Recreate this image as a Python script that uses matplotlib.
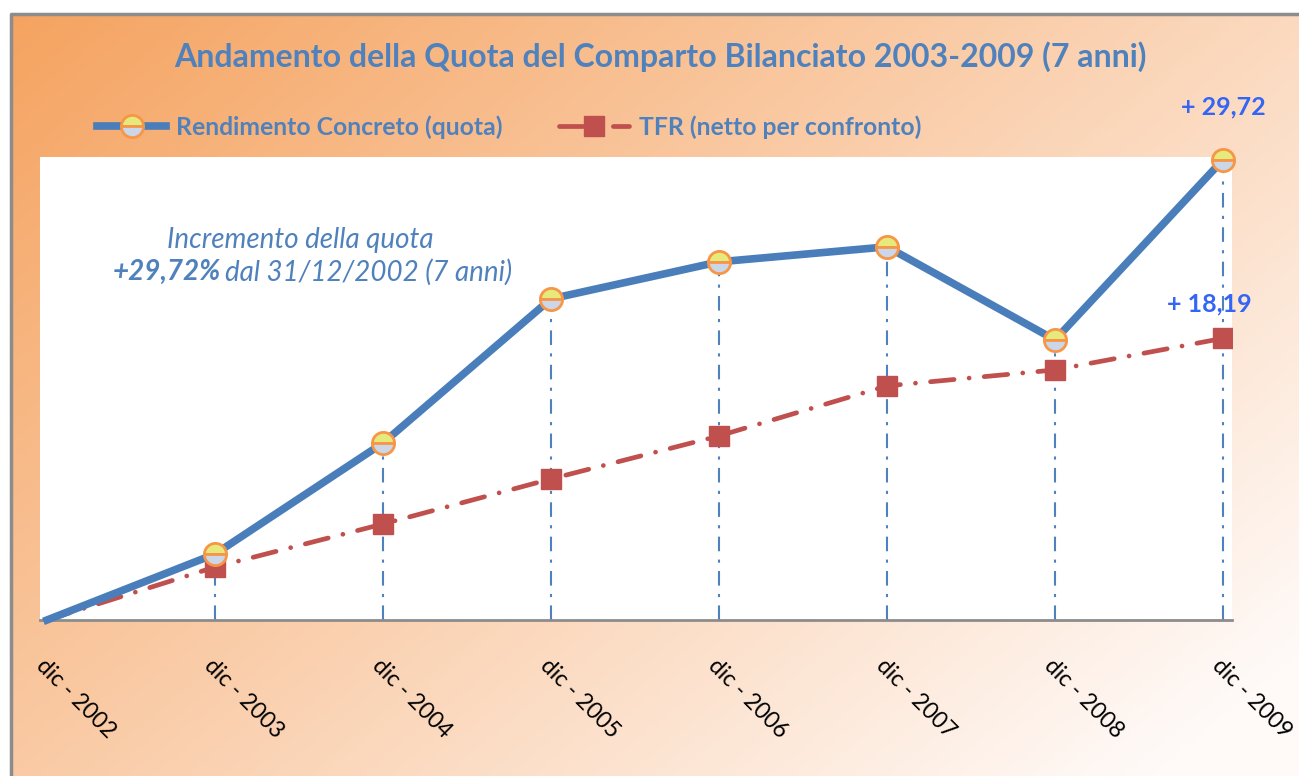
import numpy as np
import matplotlib.pyplot as plt
from matplotlib.patches import Rectangle
from matplotlib.colors import to_rgb

plt.rcParams['font.family'] = ['Lato', 'DejaVu Sans']

years = ['dic - 2002', 'dic - 2003', 'dic - 2004', 'dic - 2005',
         'dic - 2006', 'dic - 2007', 'dic - 2008', 'dic - 2009']
quota = [0, 4.26, 11.43, 20.74, 23.13, 24.10, 18.09, 29.72]
tfr = [0, 3.42, 6.20, 9.11, 11.89, 15.12, 16.15, 18.19]

W, H = 1299, 776
fig = plt.figure(figsize=(W / 100, H / 100), dpi=100)

# gradient background
bg = fig.add_axes([0, 0, 1, 1], zorder=-10)
xx, yy = np.meshgrid(np.linspace(0, 1, 400), np.linspace(0, 1, 240))
t = np.clip(0.62 * xx + 0.45 * yy, 0, 1)[..., None]
c0 = np.array(to_rgb('#F5A25E'))
c1 = np.array(to_rgb('#FFFAF8'))
bg.imshow(c0 + (c1 - c0) * t, aspect='auto', extent=[0, 1, 1, 0])
bg.set_xlim(0, 1)
bg.set_ylim(1, 0)
bg.axis('off')
bg.add_patch(Rectangle((0, 0), 10 / W, 1, color='white', transform=bg.transAxes))
bg.add_patch(Rectangle((0, 1 - 13 / H), 1, 13 / H, color='white', transform=bg.transAxes))
bg.plot([11 / W, 11 / W, 1], [0, 1 - 14 / H, 1 - 14 / H], color='#8C8C8C', lw=2.5,
        transform=bg.transAxes)
bg.set_position([0, 0, 1, 1])

ax = fig.add_axes([40 / W, (H - 620) / H, (1232 - 40) / W, (620 - 157) / H])
ax.set_facecolor('white')
x = np.arange(len(years))

ax.vlines(x, 0, quota, colors='#4F81BD', linestyles=(0, (7, 4, 1.5, 4)), lw=1.5, zorder=1)
ax.plot(x, tfr, color='#C0504D', lw=3.4, linestyle=(0, (5.0, 3.2, 0.01, 3.2)),
        dash_capstyle='round', markevery=list(range(1, len(x))),
        marker='s', markersize=14, markerfacecolor='#C0504D', markeredgecolor='#C0504D',
        label='TFR (netto per confronto)', zorder=2)
ax.plot(x, quota, color='#4A7EBB', lw=5.5, marker='o', markersize=16,
        markevery=list(range(1, len(x))),
        fillstyle='top', markerfacecolor='#E6EA7C', markerfacecoloralt='#CBD6E8',
        markeredgecolor='#F79646', markeredgewidth=2,
        label='Rendimento Concreto (quota)', zorder=3, clip_on=False)

ax.set_xlim(-7 / 168, 7 + 9 / 168)
ax.set_ylim(0, 29.9)
ax.set_yticks([])
ax.set_xticks(x)
ax.set_xticklabels(years, rotation=-45, ha='left', va='top', rotation_mode='anchor',
                   fontsize=16.5)
ax.tick_params(axis='x', length=0, pad=25)
for s in ['top', 'right', 'left']:
    ax.spines[s].set_visible(False)
ax.spines['bottom'].set_color('#8C8C8C')
ax.spines['bottom'].set_linewidth(2)

ax.annotate('+ 29,72', (7, quota[7]), xytext=(0, 38), textcoords='offset points',
            ha='center', va='center', fontsize=18, fontweight='bold', color='#3366F5',
            annotation_clip=False)
ax.annotate('+ 18,19', (7, tfr[7]), xytext=(-10, 25), textcoords='offset points',
            ha='center', va='center', fontsize=18, fontweight='bold', color='#3366F5',
            annotation_clip=False)

fig.text(300 / W, 1 - 240 / H, 'Incremento della quota', ha='center', va='center',
         fontsize=20, style='italic', color='#4F81BD')
t1 = fig.text(113 / W, 1 - 272 / H, '+29,72%', ha='left', va='center',
              fontsize=20, style='italic', fontweight='bold', color='#4F81BD')
fig.canvas.draw()
bb = t1.get_window_extent()
fig.text(bb.x1 / W + 4 / W, 1 - 272 / H, 'dal 31/12/2002 (7 anni)', ha='left', va='center',
         fontsize=20, style='italic', color='#4F81BD')

fig.text(660 / W, 1 - 57 / H, 'Andamento della Quota del Comparto Bilanciato 2003-2009 (7 anni)',
         ha='center', va='center', fontsize=23, fontweight='bold', color='#4F81BD')

h, l = ax.get_legend_handles_labels()
fig.legend(h[::-1], l[::-1], loc='center', bbox_to_anchor=(509 / W, 1 - 127 / H), ncol=2,
           frameon=False, handlelength=2.8, columnspacing=2.3, handletextpad=0.4,
           prop={'weight': 'bold', 'size': 17.8}, labelcolor='#4F81BD')

fig.savefig('out.png', dpi=100)
plt.close()
